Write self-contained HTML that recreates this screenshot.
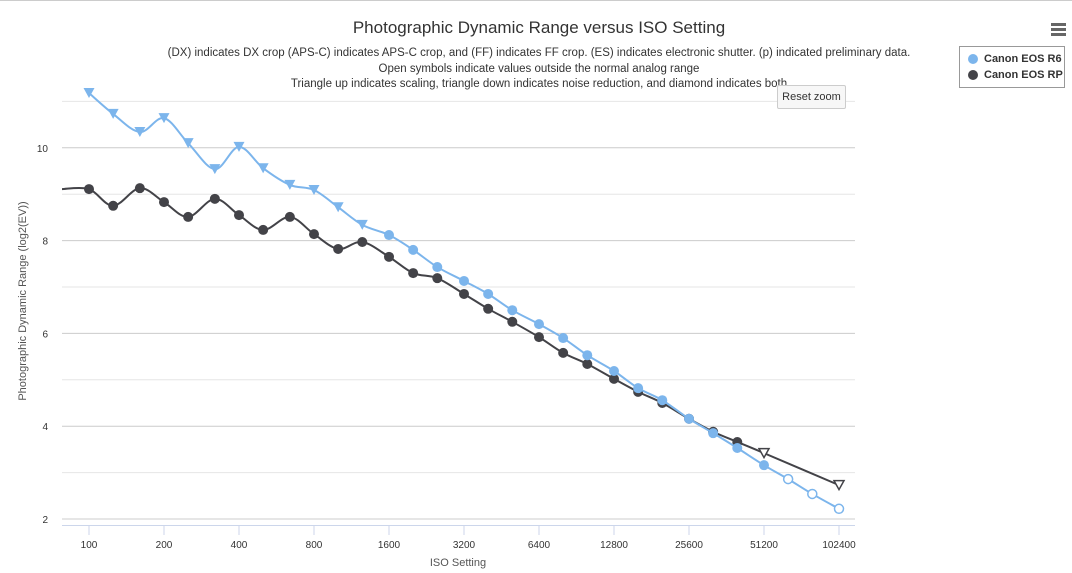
<!DOCTYPE html>
<html><head><meta charset="utf-8"><style>
body{margin:0;background:#fff;font-family:"Liberation Sans",sans-serif;}
#wrap{position:relative;width:1072px;height:573px;overflow:hidden;border-top:1px solid #ccc;box-sizing:border-box}
.legend{position:absolute;left:959px;top:45px;width:106px;height:42px;border:1px solid #999;box-sizing:border-box;font-size:11px;font-weight:bold;color:#333}
.li{position:absolute;left:8px;display:flex;align-items:center}
.dot{width:10px;height:10px;border-radius:50%;margin-right:6px}
.reset{position:absolute;left:777px;top:84px;width:69px;height:24px;background:#f7f7f7;border:1px solid #ccc;box-sizing:border-box;font-size:11px;text-align:center;line-height:22px;color:#333;border-radius:2px}
.menu{position:absolute;left:1051px;top:22px;width:15px}
.menu div{height:2.5px;background:#666;margin-bottom:2.5px}
</style></head><body>
<div id="wrap">
<svg id="svg" width="1072" height="573" style="position:absolute;left:0;top:0">
<text x="539" y="32" text-anchor="middle" font-size="17" fill="#333">Photographic Dynamic Range versus ISO Setting</text>
<g font-size="11.5" fill="#333" text-anchor="middle">
<text x="539" y="55">(DX) indicates DX crop (APS-C) indicates APS-C crop, and (FF) indicates FF crop. (ES) indicates electronic shutter. (p) indicated preliminary data.</text>
<text x="539" y="71">Open symbols indicate values outside the normal analog range</text>
<text x="539" y="86">Triangle up indicates scaling, triangle down indicates noise reduction, and diamond indicates both</text>
</g>
<g id="grid"></g><g id="axes"></g><g id="series"></g>
<text x="458" y="565" text-anchor="middle" font-size="11" fill="#555">ISO Setting</text>
<text transform="translate(26,300) rotate(-90)" text-anchor="middle" font-size="11" fill="#555">Photographic Dynamic Range (log2(EV))</text>
</svg>
<div class="menu"><div></div><div></div><div></div></div>
<div class="legend">
<div class="li" style="top:6px"><span class="dot" style="background:#7cb5ec"></span>Canon EOS R6</div>
<div class="li" style="top:22px"><span class="dot" style="background:#434348"></span>Canon EOS RP</div>
</div>
<div class="reset">Reset zoom</div>
</div>
<script>
const isoR6=[100,125,160,200,250,320,400,500,640,800,1000,1250,1600,2000,2500,3200,4000,5000,6400,8000,10000,12800,16000,20000,25600,32000,40000,51200,64000,80000,102400];
const valR6=[11.18,10.73,10.34,10.64,10.10,9.54,10.02,9.56,9.20,9.09,8.72,8.34,8.12,7.80,7.43,7.13,6.85,6.50,6.20,5.90,5.53,5.19,4.82,4.56,4.16,3.85,3.53,3.16,2.86,2.54,2.22];
const symR6=["td","td","td","td","td","td","td","td","td","td","td","td","c","c","c","c","c","c","c","c","c","c","c","c","c","c","c","c","oc","oc","oc"];
const isoRP=[100,125,160,200,250,320,400,500,640,800,1000,1250,1600,2000,2500,3200,4000,5000,6400,8000,10000,12800,16000,20000,25600,32000,40000,51200,102400];
const valRP=[9.11,8.75,9.13,8.83,8.51,8.90,8.55,8.23,8.51,8.14,7.82,7.97,7.65,7.30,7.19,6.85,6.53,6.25,5.92,5.58,5.34,5.02,4.74,4.50,4.16,3.88,3.66,3.42,2.73];
const symRP=["c","c","c","c","c","c","c","c","c","c","c","c","c","c","c","c","c","c","c","c","c","c","c","c","c","c","c","otd","otd"];
const xTicks=[100,200,400,800,1600,3200,6400,12800,25600,51200,102400];
const yTicks=[2,4,6,8,10];
const NS="http://www.w3.org/2000/svg";
const X=iso=>89+75*Math.log2(iso/100);
const Y=v=>518-(v-2)*46.4;
function mk(tag,attrs,parent){const e=document.createElementNS(NS,tag);for(const k in attrs)e.setAttribute(k,attrs[k]);parent.appendChild(e);return e;}
const grid=document.getElementById('grid'),axes=document.getElementById('axes'),ser=document.getElementById('series');
for(let v=2;v<=11;v++){const l=mk('line',{x1:62,x2:855,y1:Y(v),y2:Y(v),stroke:v%2?'#e6e6e6':'#ccc','stroke-width':1},grid);

}
yTicks.forEach(v=>{const t=mk('text',{x:48,y:Y(v)+4,'text-anchor':'end','font-size':10,fill:'#333'},axes);t.textContent=v;

});
const xl=mk('line',{x1:62,x2:855,y1:524.5,y2:524.5,stroke:'#ccd6eb'},axes);


xTicks.forEach(v=>{mk('line',{x1:X(v),x2:X(v),y1:524,y2:534,stroke:'#ccd6eb'},axes);
const t=mk('text',{x:X(v),y:547,'text-anchor':'middle','font-size':10,fill:'#333'},axes);t.textContent=v;

});
function spline(pts){let d=`M${pts[0][0]},${pts[0][1]}`;for(let i=0;i<pts.length-1;i++){const p0=pts[Math.max(0,i-1)],p1=pts[i],p2=pts[i+1],p3=pts[Math.min(pts.length-1,i+2)];const s=1/6;
d+=` C${p1[0]+(p2[0]-p0[0])*s},${p1[1]+(p2[1]-p0[1])*s} ${p2[0]-(p3[0]-p1[0])*s},${p2[1]-(p3[1]-p1[1])*s} ${p2[0]},${p2[1]}`;}return d;}
function draw(isos,vals,syms,color,name,lead){let pts=isos.map((s,i)=>[X(s),Y(vals[i])]);if(lead)pts=[[62,pts[0][1]]].concat(pts);
const p=mk('path',{d:spline(pts),fill:'none',stroke:color,'stroke-width':2},ser);


isos.forEach((s,i)=>{const x=X(s),y=Y(vals[i]),k=syms[i];let m;
if(k==='c')m=mk('circle',{cx:x,cy:y,r:5,fill:color},ser);
else if(k==='oc')m=mk('circle',{cx:x,cy:y,r:4.5,fill:'#fff',stroke:color,'stroke-width':1.5},ser);
else if(k==='td')m=mk('path',{d:`M${x-5.5},${y-5} L${x+5.5},${y-5} L${x},${y+5} Z`,fill:color},ser);
else m=mk('path',{d:`M${x-5},${y-4.5} L${x+5},${y-4.5} L${x},${y+4.5} Z`,fill:'#fff',stroke:color,'stroke-width':1.5},ser);

});}
draw(isoRP,valRP,symRP,'#434348','canon-eos-rp',true);
draw(isoR6,valR6,symR6,'#7cb5ec','canon-eos-r6',false);
</script>
</body></html>
